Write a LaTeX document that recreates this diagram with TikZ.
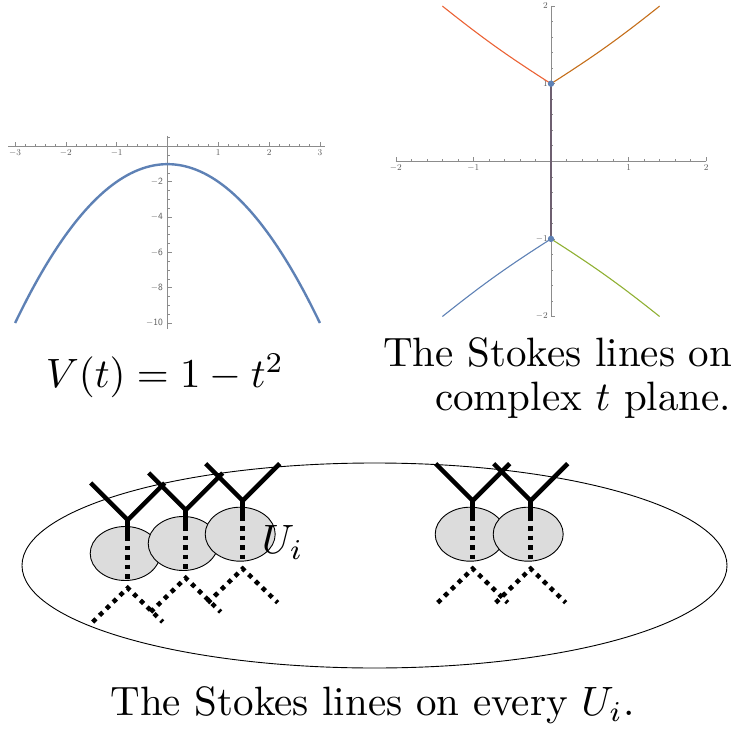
\documentclass[tikz,border=0pt]{standalone}
\usepackage{tikz}
\usetikzlibrary{calc}
\definecolor{PlotBlue}{HTML}{5E81B5}
\definecolor{StokesRed}{HTML}{EB6235}
\definecolor{StokesBrown}{HTML}{C56E1A}
\definecolor{StokesGreen}{HTML}{8FB032}
\definecolor{StokesPurple}{HTML}{6E5F70}
\definecolor{AxisGray}{HTML}{8C8C8C}
\definecolor{LabelGray}{HTML}{5A5A5A}
\definecolor{BlobGray}{HTML}{DCDCDC}
\tikzset{
  axis/.style={draw=AxisGray, line width=0.9pt},
  tick/.style={draw=AxisGray, line width=0.6pt},
  ticklabel/.style={font=\sffamily\fontsize{9.5}{10}\selectfont, text=LabelGray, inner sep=1pt},
  curve/.style={draw=PlotBlue, line width=2.4pt},
  stokes/.style={line width=1.1pt},
  bigtext/.style={scale=4.1, inner sep=0pt},
  region/.style={draw=black, line width=0.9pt},
  blob/.style={draw=black, line width=0.9pt, fill=BlobGray},
  solidline/.style={draw=black, line width=4.5pt},
  dotline/.style={draw=black, line width=4.5pt, dash pattern=on 4.5pt off 5pt}
}

\begin{document}
\begin{tikzpicture}[x=1pt, y=-1pt]
\useasboundingbox (0,0) rectangle (736,730);

% left plot
\draw[axis] (8,146.5) -- (325,146.5);
\draw[axis] (167.5,136) -- (167.5,329);
\foreach \i in {-15,...,15}
  \draw[tick] ({167.5+10.16*\i},146.5) -- ++(0,-2);
\foreach \i in {-3,-2,-1,1,2,3} {
  \draw[tick] ({167.5+50.8*\i},146.5) -- ++(0,-4);
  \node[ticklabel, anchor=north] at ({167.5+50.8*\i},149) {$\i$};
}
\foreach \i in {-20,...,1}
  \draw[tick] (167.5,{146.5-8.825*\i}) -- ++(2,0);
\foreach \v in {2,4,...,10} {
  \draw[tick] (167.5,{146.5+17.65*\v}) -- ++(4,0);
  \node[ticklabel, anchor=east] at (164,{146.5+17.65*\v}) {$-$\v};
}
\draw[curve] plot[domain=-3:3, samples=80] ({167.5+50.8*\x},{146.5+17.65*(1+\x*\x)});

% right plot
\draw[axis] (395.7,161.3) -- (706,161.3);
\draw[axis] (551,6) -- (551,316.7);
\foreach \i in {-10,...,10} {
  \draw[tick] ({551+15.52*\i},161.3) -- ++(0,-2);
  \draw[tick] (551,{161.3-15.52*\i}) -- ++(2,0);
}
\foreach \i in {-2,-1,1,2} {
  \draw[tick] ({551+77.6*\i},161.3) -- ++(0,-4);
  \draw[tick] (551,{161.3-77.6*\i}) -- ++(4,0);
  \node[ticklabel, anchor=north] at ({551+77.6*\i},164) {$\i$};
  \node[ticklabel, anchor=east] at (549,{161.3-77.6*\i}) {$\i$};
}
\coordinate (tp) at (551,83.7);
\coordinate (bp) at (551,238.9);
\coordinate (tl) at (442.4,6.1);
\coordinate (tr) at (659.6,6.1);
\coordinate (bl) at (442.4,316.5);
\coordinate (br) at (659.6,316.5);
\draw[stokes, draw=StokesRed] (tp) to[bend left=3] (tl);
\draw[stokes, draw=StokesBrown] (tp) to[bend right=3] (tr);
\draw[stokes, draw=PlotBlue] (bp) to[bend right=3] (bl);
\draw[stokes, draw=StokesGreen] (bp) to[bend left=3] (br);
\draw[stokes, draw=StokesPurple, line width=1.6pt] (tp) -- (bp);
\fill[PlotBlue] (tp) circle (3.2);
\fill[PlotBlue] (bp) circle (3.2);

% texts
\node[bigtext, anchor=base] (vlabel) at (165,387) {$V(t)=1-t^2$};
\node[bigtext, anchor=base east] (rline1) at (733,366.7) {The Stokes lines on};
\node[bigtext, anchor=base east] (rline2) at (732,410) {complex $t$ plane.};

% bottom: the region and the U_i
\draw[region] (374.5,565.5) ellipse [x radius=352.5, y radius=102.5];
\foreach \vx/\vy in {127.7/520, 185.7/510, 242.7/500.7, 472.7/500.7, 530.7/500.7}
  \draw[blob] ({\vx-2.5},{\vy+33.5}) ellipse [x radius=35, y radius=27];
\foreach \vx/\vy in {127.7/520, 185.7/510, 242.7/500.7, 472.7/500.7, 530.7/500.7} {
  \draw[solidline] ({\vx-37},{\vy-37}) -- (\vx,\vy) -- ({\vx+37},{\vy-37});
  \draw[solidline] (\vx,\vy) -- (\vx,{\vy+16});
  \draw[dotline] (\vx,{\vy+16}) -- (\vx,{\vy+62});
  \draw[dotline] ({\vx-35},{\vy+102}) -- (\vx,{\vy+68}) -- ({\vx+35},{\vy+102});
}
\node[bigtext, anchor=base west] (ulabel) at (261,553) {$U_i$};
\node[bigtext, anchor=base] (caption) at (372.5,715.7) {The Stokes lines on every $U_i$.};
\end{tikzpicture}
\end{document}
